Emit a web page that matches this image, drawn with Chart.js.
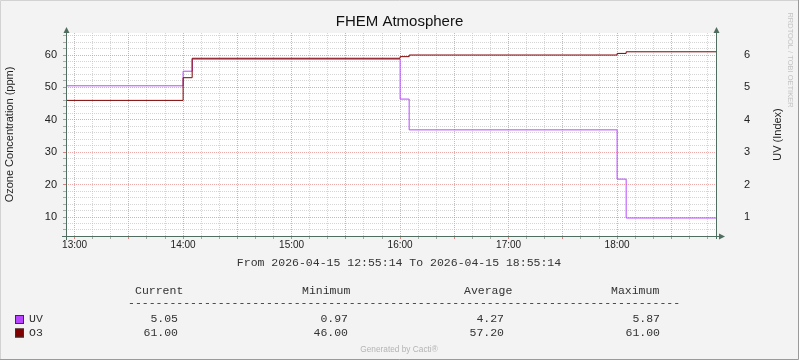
<!DOCTYPE html>
<html>
<head>
<meta charset="utf-8">
<script src="https://cdn.jsdelivr.net/npm/chart.js@4"></script>
<style>
  body { margin: 0; background: #f3f3f3; }
  canvas { display: block; }
</style>
</head>
<body>
<canvas id="chartAtmo" width="799" height="360"></canvas>
<script>
// minutes after 12:00, start 12:55:14, end 18:55:14
const times = [55.233, 120, 125, 240, 245, 360, 365, 415.233];
const uvValues = [5.05, 5.5, 5.87, 4.64, 3.69, 2.17, 0.97, 0.97];
const o3Values = [46, 53, 59, 59.5, 60, 60.5, 61, 61];

const hourLabels = ["13:00", "14:00", "15:00", "16:00", "17:00", "18:00"];
const ozoneTicks = [10, 20, 30, 40, 50, 60];
const uvTicks = [1, 2, 3, 4, 5, 6];

const seriesNames = ["UV", "O3"];
const seriesColors = ["#b946ff", "#800000"];
const statHeaders = ["Current", "Minimum", "Average", "Maximum"];
const uvStats = ["5.05", "0.97", "4.27", "5.87"];
const o3Stats = ["61.00", "46.00", "57.20", "61.00"];

const axisColor = "#4f6e60";
const minorGrid = "rgba(185,185,185,0.6)";
const majorGrid = "rgba(230,120,120,0.65)";

function points(vals) {
  return times.map((t, i) => ({ x: t, y: vals[i] }));
}

// === extra RRDtool bits: axes with arrows, legend table, watermark ===
const rrdFrame = {
  id: "rrdFrame",
  beforeDraw(chart) {
    const { ctx, chartArea: a } = chart;
    ctx.save();
    ctx.fillStyle = "#f3f3f3";
    ctx.fillRect(0, 0, chart.width, chart.height);
    ctx.fillStyle = "#ffffff";
    ctx.fillRect(a.left, a.top, a.right - a.left, a.bottom - a.top);
    ctx.restore();
  },
  afterDraw(chart) {
    const { ctx, chartArea: a } = chart;
    ctx.save();

    // axes
    ctx.strokeStyle = axisColor;
    ctx.fillStyle = axisColor;
    ctx.lineWidth = 1;
    ctx.beginPath();
    ctx.moveTo(a.left + 0.5, 30);
    ctx.lineTo(a.left + 0.5, a.bottom + 4);
    ctx.moveTo(a.left - 4, a.bottom + 0.5);
    ctx.lineTo(a.right + 3, a.bottom + 0.5);
    ctx.moveTo(a.right - 0.5, 30);
    ctx.lineTo(a.right - 0.5, a.bottom + 3);
    ctx.stroke();
    [a.left + 0.5, a.right - 0.5].forEach((x) => {
      ctx.beginPath();
      ctx.moveTo(x, 27);
      ctx.lineTo(x - 3, 33);
      ctx.lineTo(x + 3, 33);
      ctx.closePath();
      ctx.fill();
    });
    ctx.beginPath();
    ctx.moveTo(a.right + 8, a.bottom + 0.5);
    ctx.lineTo(a.right + 2, a.bottom - 2.5);
    ctx.lineTo(a.right + 2, a.bottom + 3.5);
    ctx.closePath();
    ctx.fill();

    // right axis title
    ctx.fillStyle = "#222";
    ctx.font = "11px 'Liberation Sans'";
    ctx.textAlign = "center";
    ctx.textBaseline = "middle";
    ctx.save();
    ctx.translate(778, (a.top + a.bottom) / 2);
    ctx.rotate(-Math.PI / 2);
    ctx.fillText("UV (Index)", 0, 0);
    ctx.restore();

    // watermark
    ctx.save();
    ctx.fillStyle = "#c4c4c4";
    ctx.font = "7.5px 'Liberation Sans'";
    ctx.translate(790, 60);
    ctx.rotate(Math.PI / 2);
    ctx.fillText("RRDTOOL / TOBI OETIKER", 0, 0);
    ctx.restore();

    // time span line
    ctx.fillStyle = "#333";
    ctx.font = "11.5px 'Liberation Mono'";
    ctx.fillText("From 2026-04-15 12:55:14 To 2026-04-15 18:55:14", 399, 263);

    // legend table
    const headX = [135, 302, 464, 611];
    const valRight = [178, 348, 504, 660];
    ctx.textAlign = "left";
    statHeaders.forEach((h, i) => ctx.fillText(h, headX[i], 291));
    ctx.fillText("-".repeat(80), 128, 303);
    [uvStats, o3Stats].forEach((row, r) => {
      const y = 319 + r * 13.5;
      ctx.fillStyle = seriesColors[r];
      ctx.fillRect(15, y - 4, 9, 9);
      ctx.strokeStyle = "#333";
      ctx.strokeRect(15.5, y - 3.5, 8, 8);
      ctx.fillStyle = "#333";
      ctx.textAlign = "left";
      ctx.fillText(seriesNames[r], 29, y);
      ctx.textAlign = "right";
      row.forEach((v, i) => ctx.fillText(v, valRight[i], y));
    });

    // footer
    ctx.fillStyle = "#b4b4b4";
    ctx.font = "8.3px 'Liberation Sans'";
    ctx.textAlign = "center";
    ctx.fillText("Generated by Cacti®", 399, 350);

    // image border
    ctx.lineWidth = 1;
    ctx.strokeStyle = "#d2d2d2";
    ctx.beginPath();
    ctx.moveTo(0.5, chart.height);
    ctx.lineTo(0.5, 0.5);
    ctx.lineTo(chart.width, 0.5);
    ctx.stroke();
    ctx.strokeStyle = "#9a9a9a";
    ctx.beginPath();
    ctx.moveTo(chart.width - 0.5, 0);
    ctx.lineTo(chart.width - 0.5, chart.height - 0.5);
    ctx.lineTo(0, chart.height - 0.5);
    ctx.stroke();
    ctx.restore();
  },
};

const ctxAtmo = document.getElementById("chartAtmo");
new Chart(ctxAtmo, {
  type: "line",
  data: {
    datasets: [
      {
        label: "UV",
        data: points(uvValues),
        yAxisID: "y1",
        borderColor: seriesColors[0],
        borderWidth: 1,
        stepped: true,
        pointRadius: 0,
        order: 1,
      },
      {
        label: "O3",
        data: points(o3Values),
        yAxisID: "y",
        borderColor: seriesColors[1],
        borderWidth: 1,
        stepped: true,
        pointRadius: 0,
        order: 0,
      },
    ],
  },
  options: {
    responsive: false,
    animation: false,
    devicePixelRatio: 1,
    layout: { padding: 0 },
    plugins: {
      legend: { display: false },
      tooltip: { enabled: false },
      title: {
        display: true,
        text: "FHEM Atmosphere",
        color: "#111",
        font: { family: "'Liberation Sans'", size: 15, weight: "normal" },
        padding: { top: 13, bottom: 2 },
      },
    },
    scales: {
      x: {
        type: "linear",
        min: times[0],
        max: times[times.length - 1],
        afterBuildTicks(scale) {
          const t = [];
          for (let v = 60; v <= 410; v += 10) t.push({ value: v });
          scale.ticks = t;
        },
        afterFit(scale) {
          scale.height = 124;
        },
        ticks: {
          autoSkip: false,
          maxRotation: 0,
          padding: 0,
          color: "#222",
          font: { family: "'Liberation Sans'", size: 10 },
          callback: (v) => (v % 60 === 0 ? hourLabels[v / 60 - 1] : ""),
        },
        grid: {
          color: (c) => (c.tick && c.tick.value % 30 === 0 ? majorGrid : minorGrid),
          tickColor: (c) => (c.tick && c.tick.value % 30 === 0 ? "#e08080" : "#aaa"),
          tickLength: 3,
        },
        border: { display: false, dash: [1, 1] },
      },
      y: {
        position: "left",
        min: 4.14,
        max: 66.8,
        afterBuildTicks(scale) {
          const t = [];
          for (let v = 6; v <= 66; v += 2) t.push({ value: v });
          scale.ticks = t;
        },
        afterFit(scale) {
          scale.width = 66;
        },
        ticks: {
          autoSkip: false,
          padding: 6,
          color: "#222",
          font: { family: "'Liberation Sans'", size: 11 },
          callback: (v) => (ozoneTicks.includes(v) ? String(v) : ""),
        },
        grid: {
          color: (c) => (c.tick && c.tick.value % 10 === 0 ? majorGrid : minorGrid),
          tickColor: (c) => (c.tick && c.tick.value % 10 === 0 ? "#e08080" : "#aaa"),
          tickLength: 3,
        },
        border: { display: false, dash: [1, 1] },
        title: {
          display: true,
          text: "Ozone Concentration (ppm)",
          color: "#222",
          font: { family: "'Liberation Sans'", size: 11 },
          padding: { top: 3.5, bottom: 0 },
        },
      },
      y1: {
        position: "right",
        min: 0.414,
        max: 6.68,
        afterBuildTicks(scale) {
          scale.ticks = uvTicks.map((v) => ({ value: v }));
        },
        afterFit(scale) {
          scale.width = 82;
        },
        ticks: {
          autoSkip: false,
          padding: 19,
          color: "#222",
          font: { family: "'Liberation Sans'", size: 11 },
        },
        grid: { display: false },
        border: { display: false },
      },
    },
  },
  plugins: [rrdFrame],
});
</script>
</body>
</html>
